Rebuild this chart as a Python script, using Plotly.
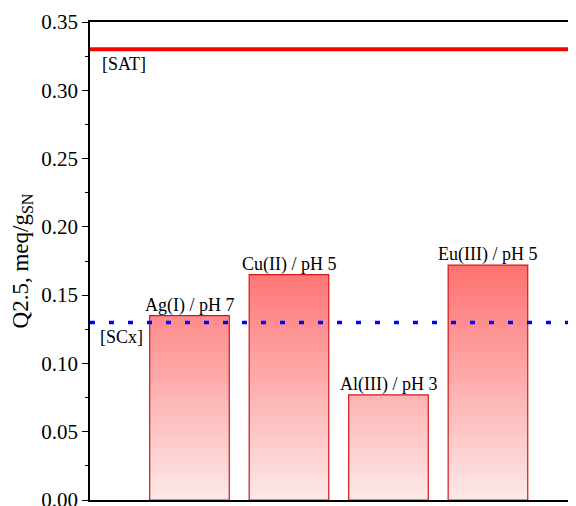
import plotly.graph_objects as go

categories = ["Ag(I) / pH 7", "Cu(II) / pH 5", "Al(III) / pH 3", "Eu(III) / pH 5"]
positions = [1, 2, 3, 4]
values = [0.135, 0.165, 0.077, 0.172]
sat_level = 0.330
scx_level = 0.130
y_ticks = [0.00, 0.05, 0.10, 0.15, 0.20, 0.25, 0.30, 0.35]

bar_w = 0.8
x_max = 4.885
serif = "Times New Roman, Liberation Serif, serif"

fig = go.Figure()

for p, v in zip(positions, values):
    xs = [p - bar_w / 2, p - bar_w / 2, p + bar_w / 2, p + bar_w / 2, p - bar_w / 2]
    ys = [0, v, v, 0, 0]
    fig.add_trace(go.Scatter(
        x=xs, y=ys, mode="lines", fill="toself",
        line=dict(color="#d01818", width=1.2),
        fillgradient=dict(type="vertical", start=0, stop=0.18,
                          colorscale=[[0, "#fde9e9"], [1, "#ff6b6b"]]),
        hoverinfo="skip", showlegend=False,
    ))

fig.add_trace(go.Scatter(
    x=[0, x_max], y=[sat_level, sat_level], mode="lines",
    line=dict(color="#ff0000", width=4), showlegend=False, hoverinfo="skip"))
fig.add_trace(go.Scatter(
    x=[0, x_max], y=[scx_level, scx_level], mode="lines",
    line=dict(color="#0000ff", width=3.5, dash="5px,14px"), showlegend=False, hoverinfo="skip"))

for p, v, c in zip(positions, values, categories):
    fig.add_annotation(x=p, y=v, text=c, showarrow=False, yanchor="bottom", yshift=-2,
                       font=dict(family=serif, size=18, color="black"))

fig.add_annotation(x=0.1, y=sat_level, text="[SAT]", showarrow=False, xanchor="left",
                   yanchor="top", yshift=-3, font=dict(family=serif, size=18, color="black"))
fig.add_annotation(x=0.08, y=scx_level, text="[SCx]", showarrow=False, xanchor="left",
                   yanchor="top", yshift=-3, font=dict(family=serif, size=18, color="black"))

fig.update_layout(
    width=576, height=506,
    margin=dict(l=82, r=8, t=14, b=14),
    plot_bgcolor="white", paper_bgcolor="white",
    font=dict(family=serif, color="black"),
    xaxis=dict(range=[0, x_max], showticklabels=False, ticks="", showgrid=False, automargin=False,
               zeroline=False, showline=True, linecolor="black", linewidth=1.5, mirror=True),
    yaxis=dict(range=[0, 0.35], tickvals=y_ticks, tickformat=".2f", ticks="outside", automargin=False,
               ticklen=6, tickwidth=1, tickcolor="black", showgrid=False, zeroline=False,
               showline=True, linecolor="black", linewidth=1.5,
               tickfont=dict(family=serif, size=21, color="black"),
               minor=dict(dtick=0.025, ticks="outside", ticklen=3, tickcolor="black"),
               title=dict(text="Q2.5, meq/g<sub>SN</sub>", font=dict(family=serif, size=23, color="black"),
                          standoff=6)),
)

fig.write_html("out.html")
